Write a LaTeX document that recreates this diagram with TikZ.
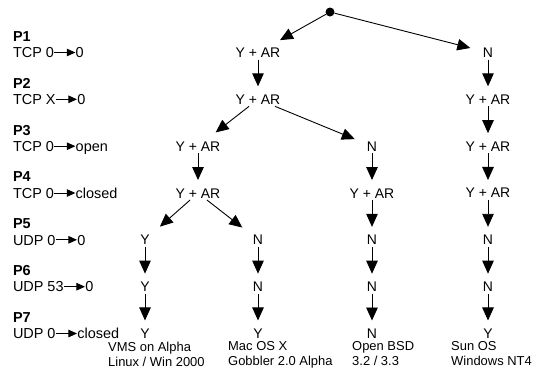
\documentclass[tikz,border=0pt]{standalone}
\usepackage{fontspec}
\setmainfont{Liberation Sans}
\usetikzlibrary{arrows.meta, positioning}

\newcommand{\tsto}{\tikz[baseline=-5.2bp]\draw[line width=0.8bp, -{Triangle[length=8.5bp,width=7.5bp]}] (0bp,0bp) -- (21bp,0bp);}

\begin{document}
\begin{tikzpicture}[
x=1bp, y=-1bp,
node distance=32.83bp,
ans/.style={inner sep=2bp, outer sep=0pt, text height=10bp, text depth=0pt, font=\fontsize{14}{16}\selectfont},
test/.style={anchor=west, inner sep=1bp, outer sep=0pt, text height=10.4bp, text depth=0pt, font=\fontsize{14.5}{16}\selectfont},
plabel/.style={test, font=\fontsize{14.5}{16}\selectfont\bfseries},
osname/.style={anchor=north west, inner sep=0pt, align=left, font=\fontsize{13}{15}\selectfont},
arrow/.style={-{Triangle[length=13bp,width=11.5bp]}, line width=0.9bp, shorten >=6bp},
branch/.style={arrow, shorten >=11bp}
]
\useasboundingbox (0,0) rectangle (536,379);

% ---------- PROBES ----------

\node[test] (t1) at (12,52.5) {TCP 0\tsto 0};
\node[plabel, above=4bp of t1.north west, anchor=south west] (p1) {P1};

\node[test] (t2) at (12,99.3) {TCP X\tsto 0};
\node[plabel, above=4bp of t2.north west, anchor=south west] (p2) {P2};

\node[test] (t3) at (12,146.2) {TCP 0\tsto open};
\node[plabel, above=4bp of t3.north west, anchor=south west] (p3) {P3};

\node[test] (t4) at (12,193) {TCP 0\tsto closed};
\node[plabel, above=4bp of t4.north west, anchor=south west] (p4) {P4};

\node[test] (t5) at (12,239.8) {UDP 0\tsto 0};
\node[plabel, above=4bp of t5.north west, anchor=south west] (p5) {P5};

\node[test] (t6) at (12,286.7) {UDP 53\tsto 0};
\node[plabel, above=4bp of t6.north west, anchor=south west] (p6) {P6};

\node[test] (t7) at (12,333.5) {UDP 0\tsto closed};
\node[plabel, above=4bp of t7.north west, anchor=south west] (p7) {P7};

% ---------- DECISION TREE ----------

\node[fill, circle, inner sep=0pt, minimum size=9bp] (root) at (330,12) {};

\node[ans] (l1) at (258,52.5) {Y + AR};
\node[ans, below=of l1] (l2) {Y + AR};

\node[ans] (m3) at (198,146.2) {Y + AR};
\node[ans, below=of m3] (m4) {Y + AR};

\node[ans] (vms5) at (145,239.8) {Y};
\node[ans, below=of vms5] (vms6) {Y};
\node[ans, below=of vms6] (vms7) {Y};

\node[ans] (mac5) at (258,239.8) {N};
\node[ans, below=of mac5] (mac6) {N};
\node[ans, below=of mac6] (mac7) {Y};

\node[ans] (bsd3) at (372,146.2) {N};
\node[ans, below=of bsd3] (bsd4) {Y + AR};
\node[ans, below=of bsd4] (bsd5) {N};
\node[ans, below=of bsd5] (bsd6) {N};
\node[ans, below=of bsd6] (bsd7) {N};

\node[ans] (sun1) at (488,52.5) {N};
\node[ans, below=of sun1] (sun2) {Y + AR};
\node[ans, below=of sun2] (sun3) {Y + AR};
\node[ans, below=of sun3] (sun4) {Y + AR};
\node[ans, below=of sun4] (sun5) {N};
\node[ans, below=of sun5] (sun6) {N};
\node[ans, below=of sun6] (sun7) {Y};

% ---------- SYSTEMS ----------

\node[osname] (vms) at (108,341.5) {VMS on Alpha\\Linux / Win 2000};
\node[osname] (mac) at (228,341.5) {Mac OS X\\Gobbler 2.0 Alpha};
\node[osname] (bsd) at (352,341.5) {Open BSD\\3.2 / 3.3};
\node[osname] (sun) at (451,341.5) {Sun OS\\Windows NT4};

% ---------- ARROWS ----------

\draw[branch] (root) -- (l1);
\draw[branch] (root) -- (sun1);

\draw[arrow] (l1) -- (l2);
\draw[branch] (l2) -- (m3);
\draw[branch] (l2) -- (bsd3);

\draw[arrow] (m3) -- (m4);
\draw[branch] (m4) -- (vms5);
\draw[branch] (m4) -- (mac5);

\draw[arrow] (vms5) -- (vms6);
\draw[arrow] (vms6) -- (vms7);

\draw[arrow] (mac5) -- (mac6);
\draw[arrow] (mac6) -- (mac7);

\draw[arrow] (bsd3) -- (bsd4);
\draw[arrow] (bsd4) -- (bsd5);
\draw[arrow] (bsd5) -- (bsd6);
\draw[arrow] (bsd6) -- (bsd7);

\draw[arrow] (sun1) -- (sun2);
\draw[arrow] (sun2) -- (sun3);
\draw[arrow] (sun3) -- (sun4);
\draw[arrow] (sun4) -- (sun5);
\draw[arrow] (sun5) -- (sun6);
\draw[arrow] (sun6) -- (sun7);

\end{tikzpicture}
\end{document}
